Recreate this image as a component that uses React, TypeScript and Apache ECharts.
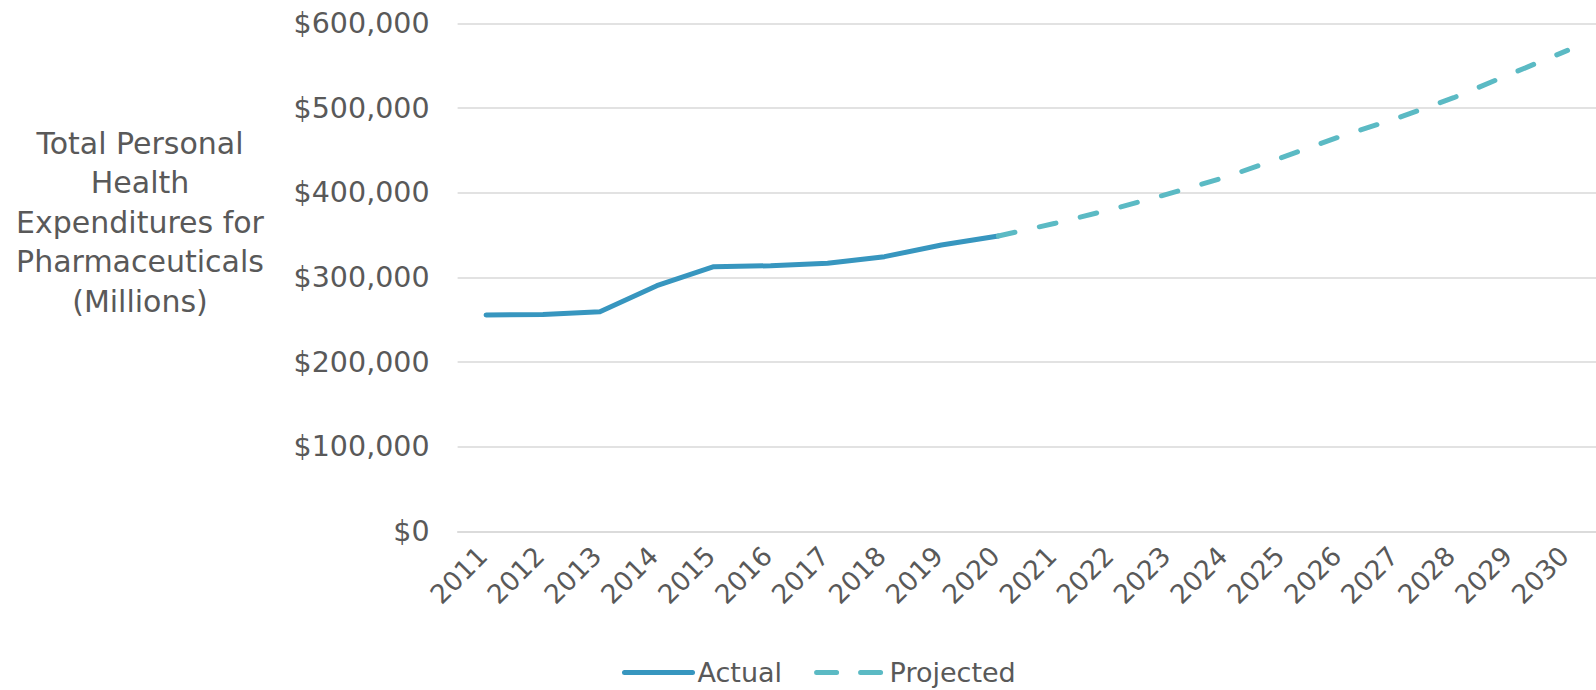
import React, { useEffect, useRef } from "react";
import * as echarts from "echarts";

const years = ["2011","2012","2013","2014","2015","2016","2017","2018","2019","2020","2021","2022","2023","2024","2025","2026","2027","2028","2029","2030"];
const actual = [255700, 256200, 259600, 290300, 312700, 313900, 316800, 324600, 338400, 349000, null, null, null, null, null, null, null, null, null, null];
const projected = [null, null, null, null, null, null, null, null, null, 349000, 364000, 380600, 398900, 418600, 442000, 466200, 487900, 512200, 540200, 568000];
const yTicks = { min: 0, max: 600000, interval: 100000 };
const yAxisTitle = "Total Personal\nHealth\nExpenditures for\nPharmaceuticals\n(Millions)";

const FONT = "DejaVu Sans";
const TEXT = "#595959";
const BLUE = "#3796BF";
const TEAL = "#5BBAC4";

export default function App() {
  const ref = useRef<HTMLDivElement>(null);
  useEffect(() => {
    if (!ref.current) return;
    const chart = echarts.init(ref.current, null, { renderer: "svg" });
    chart.setOption({
      animation: false,
      backgroundColor: "#ffffff",
      grid: { left: 457.6, top: 23.3, width: 1162, height: 508.4, containLabel: false },
      xAxis: {
        type: "category",
        data: years,
        boundaryGap: true,
        axisLine: { show: true, lineStyle: { color: "#d9d9d9", width: 1.5 } },
        axisTick: { show: false },
        axisLabel: {
          rotate: 45,
          fontSize: 26.5,
          fontFamily: FONT,
          color: TEXT,
          margin: 16,
          interval: 0,
          padding: [0, 5, 0, 0],
        },
      },
      yAxis: {
        type: "value",
        min: yTicks.min,
        max: yTicks.max,
        interval: yTicks.interval,
        axisLine: { show: false },
        axisTick: { show: false },
        splitLine: { lineStyle: { color: "#d9d9d9", width: 1.5 } },
        axisLabel: {
          fontSize: 28.5,
          fontFamily: FONT,
          color: TEXT,
          margin: 28,
          formatter: (v: number) => "$" + v.toLocaleString("en-US"),
        },
      },
      legend: {
        left: 617,
        top: 654,
        itemWidth: 68,
        itemHeight: 14,
        itemGap: 32,
        itemStyle: { opacity: 0 },
        textStyle: { fontSize: 27, fontFamily: FONT, color: TEXT },
        data: [
          { name: "Actual", itemStyle: { opacity: 0 }, lineStyle: { color: BLUE, width: 5, cap: "round" } },
          { name: "Projected", itemStyle: { opacity: 0 }, lineStyle: { color: TEAL, width: 5, type: [20, 24], cap: "round" } },
        ],
      },
      graphic: [
        {
          type: "text",
          x: 140,
          y: 222,
          style: {
            text: yAxisTitle,
            fontSize: 30,
            fontFamily: FONT,
            fill: TEXT,
            align: "center",
            verticalAlign: "middle",
            lineHeight: 39.5,
          },
        },
      ],
      series: [
        {
          name: "Actual",
          type: "line",
          data: actual,
          symbol: "none",
          connectNulls: false,
          lineStyle: { color: BLUE, width: 5, cap: "round", join: "round" },
          itemStyle: { color: BLUE },
        },
        {
          name: "Projected",
          type: "line",
          data: projected,
          symbol: "none",
          connectNulls: false,
          lineStyle: { color: TEAL, width: 5, type: [17, 25], cap: "round", join: "round" },
          itemStyle: { color: TEAL },
        },
      ],
    });
    return () => chart.dispose();
  }, []);
  return (
    <div
      ref={ref}
      style={{ position: "fixed", left: 0, top: 0, width: 1596, height: 690, background: "#fff" }}
    />
  );
}
